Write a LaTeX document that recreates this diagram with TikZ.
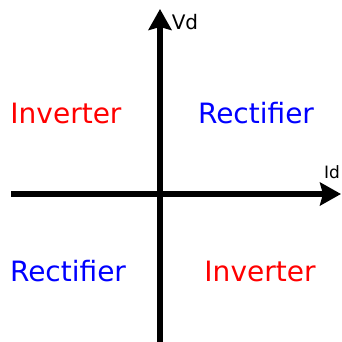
\documentclass[tikz,border=0pt]{standalone}
\usepackage{fontspec}
\setmainfont{DejaVu Sans}
\usetikzlibrary{arrows.meta}
\begin{document}
\begin{tikzpicture}[x=1pt,y=-1pt,
  axis/.style={line width=6pt,-{Stealth[length=21pt,width=23pt,inset=3pt]}},
  big/.style={font=\fontsize{28}{32}\selectfont,anchor=base},
  lbl/.style={font=\fontsize{20}{24}\selectfont,anchor=base}]
\useasboundingbox (0,0) rectangle (341,342);
\coordinate (xs) at (11,194);
\coordinate (xe) at (341,194);
\coordinate (ys) at (160,342);
\coordinate (ye) at (160,9);
\draw[axis] (xs) -- (xe);
\draw[axis] (ys) -- (ye);
\node[lbl] (vd) at (185,30) {Vd};
\node[lbl,font=\fontsize{17}{20}\selectfont] (id) at (332,178) {Id};
\node[big,red] (q2) at (66,123) {Inverter};
\node[big,blue] (q1) at (256,123) {Rectifier};
\node[big,blue] (q3) at (68,281) {Rectifier};
\node[big,red] (q4) at (260,281) {Inverter};
\end{tikzpicture}
\end{document}
